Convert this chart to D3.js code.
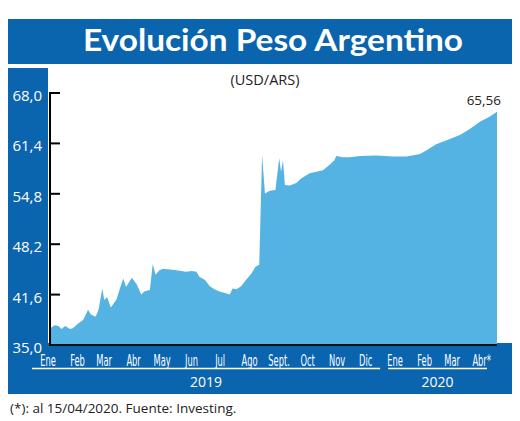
<!DOCTYPE html>
<html><head><meta charset="utf-8">
<script src="https://cdn.jsdelivr.net/npm/d3@7/dist/d3.min.js"></script>
<style>body{margin:0;background:#fff}svg{display:block}</style>
</head><body>
<svg id="c" width="520" height="421"></svg>
<script>
// ---- data ----
const dates = ["2019-01-01","2019-01-06","2019-01-10","2019-01-13","2019-01-17","2019-01-22","2019-01-25","2019-01-31",
"2019-02-05","2019-02-10","2019-02-13","2019-02-18","2019-02-21","2019-02-25","2019-02-27",
"2019-03-02","2019-03-06","2019-03-12","2019-03-15","2019-03-19","2019-03-22","2019-03-28",
"2019-04-02","2019-04-07","2019-04-10","2019-04-16","2019-04-19","2019-04-22","2019-04-26","2019-04-30",
"2019-05-07","2019-05-14","2019-05-19","2019-05-24","2019-05-30",
"2019-06-04","2019-06-07","2019-06-13","2019-06-18","2019-06-23","2019-06-28",
"2019-07-04","2019-07-09","2019-07-12","2019-07-16","2019-07-21","2019-07-26",
"2019-08-01","2019-08-05","2019-08-09","2019-08-12","2019-08-15","2019-08-20","2019-08-26","2019-08-30","2019-09-01","2019-09-03","2019-09-05",
"2019-09-10","2019-09-17","2019-09-22","2019-10-01","2019-10-08","2019-10-15","2019-10-22","2019-10-27","2019-10-29",
"2019-11-05","2019-11-12","2019-11-23","2019-12-10","2019-12-28",
"2020-01-11","2020-01-25","2020-02-01","2020-02-11","2020-02-22","2020-03-07","2020-03-17","2020-03-28","2020-04-07","2020-04-15"];
const values = [37.2,37.6,37.5,37.1,37.5,37.1,37.2,37.85,
38.3,39.6,39.0,38.7,39.6,42.4,40.9,
41.3,39.9,41.0,42.2,43.7,42.6,43.8,
43.0,41.6,42.0,42.2,45.6,44.2,44.8,45.0,
44.9,44.8,44.7,44.6,44.7,
44.6,43.95,43.5,42.7,42.3,42.0,
41.8,41.6,42.4,42.3,42.7,43.5,
44.4,45.25,45.5,59.9,54.85,55.2,55.3,59.45,57.7,59.2,55.95,
55.9,56.2,56.8,57.5,57.7,57.9,58.6,59.2,59.75,
59.6,59.6,59.75,59.8,59.7,
59.7,60.0,60.5,61.3,61.8,62.5,63.25,64.25,64.9,65.56];
const yTicks = [35.0,41.6,48.2,54.8,61.4,68.0];
const monthLabels = ["Ene","Feb","Mar","Abr","May","Jun","Jul","Ago","Sept.","Oct","Nov","Dic","Ene","Feb","Mar","Abr*"];
const monthDates = ["2019-01-01","2019-02-01","2019-03-01","2019-04-01","2019-05-01","2019-06-01","2019-07-01","2019-08-01","2019-09-01","2019-10-01","2019-11-01","2019-12-01","2020-01-01","2020-02-01","2020-03-01","2020-04-01"];
const years = ["2019","2020"];
const yearSpans = [["2019-01-01","2020-01-01"],["2020-01-01","2020-04-15"]];
const lastLabel = "65,56";

// ---- drawing ----
const parse = d3.utcParse("%Y-%m-%d");
const svg = d3.select("#c");
const blue = "#0a64ae", light = "#55b3e3";
const x = d3.scaleUtc().domain([parse("2019-01-01"), parse("2020-04-15")]).range([50, 497]);
const y = d3.scaleLinear().domain([35, 68]).range([345, 93]);
const fmt = v => d3.format(".1f")(v).replace(".", ",");

// title bar
svg.append("rect").attr("x",8).attr("y",19).attr("width",504).attr("height",45).attr("fill",blue);
svg.append("text").attr("x",273).attr("y",51).attr("text-anchor","middle")
  .attr("font-family","Lato, 'Open Sans', sans-serif").attr("font-weight","bold").attr("font-size",31)
  .attr("fill","#fff").attr("textLength",380).attr("lengthAdjust","spacingAndGlyphs")
  .text("Evolución Peso Argentino");

// blue frame parts
svg.append("rect").attr("x",8).attr("y",68).attr("width",40).attr("height",326).attr("fill",blue);
svg.append("rect").attr("x",8).attr("y",343).attr("width",504).attr("height",51).attr("fill",blue);

// subtitle
svg.append("text").attr("x",265).attr("y",85).attr("text-anchor","middle")
  .attr("font-family","'Open Sans', sans-serif").attr("font-size",14.5).attr("fill","#222").text("(USD/ARS)");

// area
const pts = dates.map((d,i)=>({d:parse(d), v:values[i]}));
const area = d3.area().x(p=>x(p.d)).y0(y(35)).y1(p=>y(p.v)).curve(d3.curveLinear);
svg.append("path").datum(pts).attr("d",area).attr("fill",light);

// axes
const gy = svg.append("g");
gy.selectAll("line.t").data(yTicks.filter(t=>t>35)).join("line")
  .attr("x1",50).attr("x2",60).attr("y1",d=>y(d)).attr("y2",d=>y(d)).attr("stroke","#000").attr("stroke-width",2);
gy.selectAll("text").data(yTicks).join("text")
  .attr("x",42).attr("y",d=>y(d)+2).attr("text-anchor","end").attr("dominant-baseline","central")
  .attr("font-family","'Open Sans', sans-serif").attr("font-size",15).attr("fill","#fff").text(fmt);
svg.append("line").attr("x1",50).attr("x2",50).attr("y1",y(68)-1).attr("y2",y(35)+1).attr("stroke","#000").attr("stroke-width",2);
svg.append("line").attr("x1",49).attr("x2",x.range()[1]).attr("y1",y(35)).attr("y2",y(35)).attr("stroke","#111").attr("stroke-width",2);

// month labels
svg.selectAll("text.m").data(monthLabels).join("text").attr("class","m")
  .attr("transform",(d,i)=>`translate(${x(parse(monthDates[i]))-2},366) scale(0.56,1)`)
  .attr("text-anchor","middle").attr("font-family","'Liberation Sans Narrow', 'DejaVu Sans Condensed', sans-serif")
  .attr("font-size",16.5).attr("fill","#fff").text(d=>d);

// year lines and labels
const spanPx = [[-18,-17],[-9,-10]];
yearSpans.forEach((s,i)=>{
  const x1 = x(parse(s[0]))+spanPx[i][0], x2 = x(parse(s[1]))+spanPx[i][1];
  svg.append("line").attr("x1",x1).attr("x2",x2).attr("y1",368.5).attr("y2",368.5).attr("stroke","#fff").attr("stroke-width",1.5);
  svg.append("text").attr("x",(x1+x2)/2).attr("y",387).attr("text-anchor","middle")
    .attr("font-family","'Open Sans', sans-serif").attr("font-size",14).attr("fill","#fff").text(years[i]);
});

// last value label
svg.append("text").attr("x",501).attr("y",105).attr("text-anchor","end")
  .attr("font-family","'Open Sans', sans-serif").attr("font-size",13.5).attr("fill","#222").text(lastLabel);

// footnote
svg.append("text").attr("x",10).attr("y",413)
  .attr("font-family","'Open Sans', sans-serif").attr("font-size",13.5).attr("fill","#222")
  .text("(*): al 15/04/2020. Fuente: Investing.");
</script>
</body></html>
